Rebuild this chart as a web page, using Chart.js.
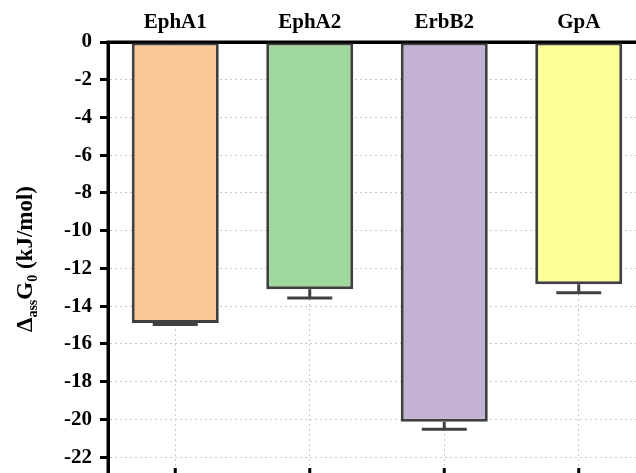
<!DOCTYPE html>
<html>
<head>
<meta charset="utf-8">
<script src="https://cdn.jsdelivr.net/npm/chart.js@4/dist/chart.umd.min.js"></script>
<style>
  html, body { margin: 0; padding: 0; overflow: hidden; background: #fff; }
  #wrap { position: absolute; left: 0; top: 0; width: 648px; height: 478px; }
</style>
</head>
<body>
<div id="wrap"><canvas id="c" width="648" height="478"></canvas></div>
<script>
const categories = ['EphA1', 'EphA2', 'ErbB2', 'GpA'];
const values = [-14.89, -13.10, -20.12, -12.84];
const errors = [0.08, 0.47, 0.40, 0.45];
const barColors = ['#FAC896', '#A0D89E', '#C3B2D6', '#FFFF99'];
const yMin = -23, yMax = 0, yStep = 2;

const FONT = "'Liberation Serif', 'Times New Roman', serif";
const EDGE = '#404040';

const overlay = {
  id: 'overlay',
  afterDatasetsDraw(chart) {
    const ctx = chart.ctx;
    const x = chart.scales.x, y = chart.scales.y;
    const area = chart.chartArea;
    ctx.save();
    // error bars (one-sided, away from zero)
    ctx.strokeStyle = EDGE;
    ctx.lineWidth = 3;
    ctx.lineCap = 'butt';
    values.forEach((v, i) => {
      const cx = x.getPixelForValue(i);
      const y0 = y.getPixelForValue(v);
      const y1 = y.getPixelForValue(v - errors[i]);
      ctx.beginPath();
      ctx.moveTo(cx, y0);
      ctx.lineTo(cx, y1);
      ctx.moveTo(cx - 22.5, y1);
      ctx.lineTo(cx + 22.5, y1);
      ctx.stroke();
    });
    // axis lines on top of bars
    ctx.strokeStyle = '#000';
    ctx.lineWidth = 3;
    ctx.beginPath();
    ctx.moveTo(area.left - 1.5, area.top);
    ctx.lineTo(area.right, area.top);
    ctx.moveTo(area.left, area.top);
    ctx.lineTo(area.left, area.bottom);
    ctx.moveTo(area.left - 1.5, area.bottom);
    ctx.lineTo(area.right, area.bottom);
    ctx.stroke();
    // inward tick marks on the bottom axis
    categories.forEach((c, i) => {
      const cx = x.getPixelForValue(i);
      ctx.beginPath();
      ctx.moveTo(cx, area.bottom);
      ctx.lineTo(cx, area.bottom - 8);
      ctx.stroke();
    });
    // y-axis title with subscripts
    const parts = [
      { t: '\u0394', sub: false },
      { t: 'ass', sub: true },
      { t: 'G', sub: false },
      { t: '0', sub: true },
      { t: ' (kJ/mol)', sub: false }
    ];
    const big = 'bold 23px ' + FONT, small = 'bold 14px ' + FONT;
    let total = 0;
    parts.forEach(p => { ctx.font = p.sub ? small : big; p.w = ctx.measureText(p.t).width; total += p.w; });
    ctx.translate(32, (area.top + area.bottom) / 2);
    ctx.rotate(-Math.PI / 2);
    ctx.fillStyle = '#000';
    ctx.textBaseline = 'alphabetic';
    ctx.textAlign = 'left';
    let px = -total / 2;
    parts.forEach(p => {
      ctx.font = p.sub ? small : big;
      ctx.fillText(p.t, px, p.sub ? 5 : 0);
      px += p.w;
    });
    ctx.restore();
  }
};

new Chart(document.getElementById('c'), {
  type: 'bar',
  data: {
    labels: categories,
    datasets: [{
      data: values,
      backgroundColor: barColors,
      borderColor: EDGE,
      borderWidth: 3,
      borderSkipped: false,
      barPercentage: 0.647,
      categoryPercentage: 1.0
    }]
  },
  options: {
    responsive: false,
    animation: false,
    devicePixelRatio: 1,
    layout: { padding: { top: 0, left: 0, right: 2, bottom: 2 } },
    plugins: { legend: { display: false }, tooltip: { enabled: false }, title: { display: false } },
    scales: {
      x: {
        type: 'category',
        position: 'top',
        offset: true,
        afterFit(s) { s.height = 42; s.paddingLeft = 0; s.paddingRight = 0; },
        grid: { display: true, offset: false, drawTicks: false, color: '#c8c8c8', lineWidth: 1 },
        border: { display: true, color: '#000', width: 3, dash: [2, 3] },
        ticks: { color: '#000', font: { family: FONT, size: 21, weight: 'bold' }, padding: 7, maxRotation: 0 }
      },
      y: {
        min: yMin,
        max: yMax,
        afterFit(s) { s.width = 108; s.paddingTop = 0; s.paddingBottom = 0; },
        grid: { display: true, color: '#c8c8c8', lineWidth: 1, drawTicks: true, tickLength: 8, tickColor: '#000', tickWidth: 3, tickBorderDash: [] },
        border: { display: true, color: '#000', width: 3, dash: [2, 3] },
        ticks: { stepSize: yStep, includeBounds: false, color: '#000', font: { family: FONT, size: 21, weight: 'bold' }, padding: 8 }
      }
    }
  },
  plugins: [overlay]
});
</script>
</body>
</html>
